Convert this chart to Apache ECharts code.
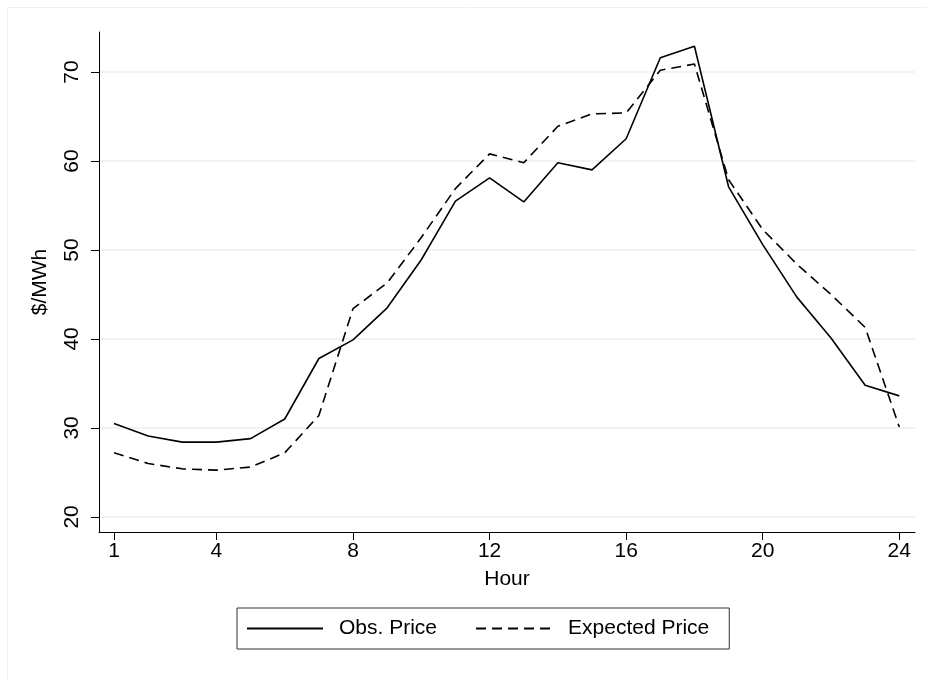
<!DOCTYPE html>
<html>
<head>
<meta charset="utf-8">
<script src="https://cdn.jsdelivr.net/npm/echarts@6/dist/echarts.min.js"></script>
<style>
  html, body { margin: 0; padding: 0; background: #fff; }
  #chart { width: 927px; height: 679px; }
</style>
</head>
<body>
<div id="chart"></div>
<script>
// Hourly electricity prices, $/MWh
const hours = [1, 2, 3, 4, 5, 6, 7, 8, 9, 10, 11, 12, 13, 14, 15, 16, 17, 18, 19, 20, 21, 22, 23, 24];
const obsPrice = [30.5, 29.1, 28.4, 28.4, 28.8, 31.0, 37.8, 39.9, 43.5, 48.9, 55.5, 58.1,
                  55.4, 59.8, 59.0, 62.5, 71.6, 72.9, 57.1, 50.6, 44.7, 40.1, 34.8, 33.6];
const expectedPrice = [27.2, 26.0, 25.4, 25.25, 25.6, 27.2, 31.4, 43.4, 46.3, 51.4, 56.9, 60.8,
                       59.8, 63.9, 65.3, 65.4, 70.2, 70.9, 57.9, 52.3, 48.4, 45.0, 41.3, 30.1];
const xTicks = [1, 4, 8, 12, 16, 20, 24];
const yTicks = [20, 30, 40, 50, 60, 70];

const font = '"Liberation Sans", Arial, Helvetica, sans-serif';
const ink = '#000';

const chart = echarts.init(document.getElementById('chart'), null, { renderer: 'canvas' });

chart.setOption({
  animation: false,
  backgroundColor: '#fff',
  textStyle: { fontFamily: font, color: ink },
  graphic: [{
    type: 'rect',
    shape: { x: 7.5, y: 7.5, width: 940, height: 700 },
    style: { fill: 'none', stroke: '#f0f0f0', lineWidth: 1 },
    silent: true
  }],
  grid: { left: 99, right: 12, top: 32, bottom: 147, containLabel: false },
  legend: {
    left: 237,
    top: 608,
    orient: 'horizontal',
    padding: [10, 20, 10, 9],
    itemWidth: 76,
    itemHeight: 21,
    itemGap: 38,
    borderColor: '#333',
    borderWidth: 1,
    itemStyle: { opacity: 0 },
    textStyle: { fontFamily: font, fontSize: 21, color: ink, padding: [0, 0, 0, 11] },
    data: ['Obs. Price', 'Expected Price']
  },
  xAxis: {
    type: 'value',
    min: 0.56,
    max: 24.46,
    name: 'Hour',
    nameLocation: 'middle',
    nameGap: 37,
    nameTextStyle: { fontFamily: font, fontSize: 21, color: ink },
    axisLine: { show: true, onZero: false, lineStyle: { color: ink, width: 1 } },
    axisTick: { show: true, length: 8, customValues: xTicks, lineStyle: { color: ink, width: 1 } },
    axisLabel: { customValues: xTicks, margin: 9, fontFamily: font, fontSize: 21, color: ink },
    splitLine: { show: false }
  },
  yAxis: {
    type: 'value',
    min: 18.3,
    max: 74.5,
    name: '$/MWh',
    nameLocation: 'middle',
    nameGap: 48,
    nameTextStyle: { fontFamily: font, fontSize: 21, color: ink },
    axisLine: { show: true, onZero: false, lineStyle: { color: ink, width: 1 } },
    axisTick: { show: true, length: 8, customValues: yTicks, lineStyle: { color: ink, width: 1 } },
    axisLabel: { customValues: yTicks, rotate: 90, margin: 16, fontFamily: font, fontSize: 21, color: ink },
    splitLine: { show: true, lineStyle: { color: '#eaeff2', width: 1.5 } }
  },
  series: [
    {
      name: 'Obs. Price',
      type: 'line',
      data: hours.map((h, i) => [h, obsPrice[i]]),
      symbol: 'none',
      showSymbol: false,
      lineStyle: { color: ink, width: 1.6, type: 'solid' },
      itemStyle: { color: ink }
    },
    {
      name: 'Expected Price',
      type: 'line',
      data: hours.map((h, i) => [h, expectedPrice[i]]),
      symbol: 'none',
      showSymbol: false,
      lineStyle: { color: ink, width: 1.6, type: [10, 6] },
      itemStyle: { color: ink }
    }
  ]
});
</script>
</body>
</html>
